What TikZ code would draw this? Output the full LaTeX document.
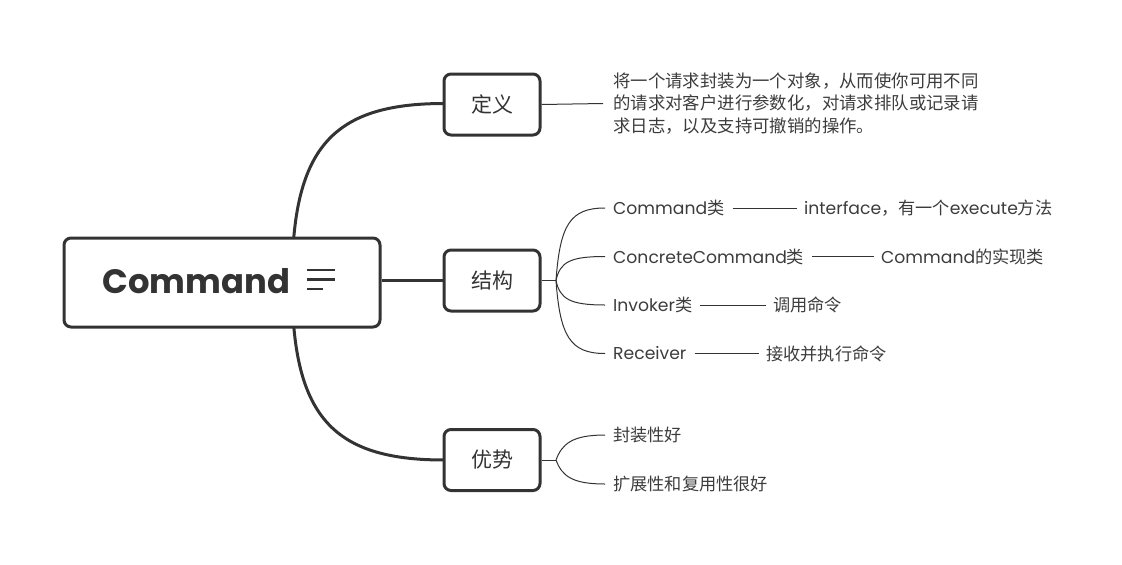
\documentclass[tikz,border=0pt]{standalone}
\usepackage{fontspec}
\setmainfont{Noto Sans CJK SC}
\newfontfamily\lat{Poppins}
\newcommand\lt[1]{{\lat #1}}
\definecolor{ink}{HTML}{333333}
\definecolor{txt}{HTML}{3C3C3C}
\tikzset{
  mainbox/.style={draw=ink, line width=3pt, rounded corners=7pt, fill=white, text=ink, inner sep=0pt},
  subbox/.style={draw=ink, line width=3pt, rounded corners=7pt, fill=white, text=ink, minimum width=96pt, minimum height=61pt, inner sep=0pt, font=\fontsize{21}{24}\selectfont},
  leaf/.style={anchor=west, inner sep=0pt, text=txt, font=\fontsize{17.2}{20}\selectfont},
  thick branch/.style={draw=ink, line width=3pt},
  thin branch/.style={draw=ink, line width=1pt},
}
\begin{document}
\begin{tikzpicture}[x=1pt,y=-1pt]
\useasboundingbox (0,0) rectangle (1122,565);
% main branches (behind root)
\coordinate (rc) at (292,282);
\draw[thick branch] (rc) .. controls (292,150) and (330,103.5) .. (444,103.5);
\draw[thick branch] (rc) .. controls (292,414) and (330,460) .. (444,460);
\node[mainbox, minimum width=316pt, minimum height=89pt] (root) at (222,282.5) {};
\node[anchor=base west, inner sep=0pt, text=ink, font=\fontsize{33.8}{36}\selectfont\lat\bfseries] (roottxt) at (102.5,293) {Command};
\draw[ink, line width=2.2pt] (307,270) -- (335,270) (307,279.5) -- (335,279.5) (307,289) -- (323,289);
\node[subbox] (def) at (492,104.5) {定义};
\node[subbox] (str) at (492,280.5) {结构};
\node[subbox] (adv) at (492,460) {优势};
\draw[thick branch] (root.east |- str.west) -- (str.west);
% definition
\node[leaf, align=left, font=\fontsize{17.4}{22.5}\selectfont] (deftxt) at (613,103.5) {将一个请求封装为一个对象，从而使你可用不同\\的请求对客户进行参数化，对请求排队或记录请\\求日志，以及支持可撤销的操作。};
\draw[thin branch] (def.east) -- ([xshift=-10pt]deftxt.west);
% structure
\node[leaf] (c1) at (613,208) {\lt{Command}类};
\node[leaf] (c2) at (613,256.5) {\lt{ConcreteCommand}类};
\node[leaf] (c3) at (613,305) {\lt{Invoker}类};
\node[leaf] (c4) at (613,353.5) {\lt{Receiver}};
\node[leaf] (d1) at (804,208) {\lt{interface}，有一个\lt{execute}方法};
\node[leaf] (d2) at (881,256.5) {\lt{Command}的实现类};
\node[leaf] (d3) at (773,305) {调用命令};
\node[leaf] (d4) at (766,353.5) {接收并执行命令};
\coordinate (sj) at (556,280.5);
\draw[thin branch] (str.east) -- (sj);
\draw[thin branch] (sj) .. controls (560,225) and (570,208) .. ([xshift=-8pt]c1.west);
\draw[thin branch] (sj) .. controls (560,262) and (570,256.5) .. ([xshift=-8pt]c2.west);
\draw[thin branch] (sj) .. controls (560,299) and (570,305) .. ([xshift=-8pt]c3.west);
\draw[thin branch] (sj) .. controls (560,336) and (570,353.5) .. ([xshift=-8pt]c4.west);
\foreach \a/\b in {c1/d1,c2/d2,c3/d3,c4/d4}
  \draw[thin branch] ([xshift=8pt]\a.east) -- ([xshift=-7pt]\b.west);
% advantages
\node[leaf] (a1) at (613,435) {封装性好};
\node[leaf] (a2) at (613,484) {扩展性和复用性很好};
\coordinate (aj) at (556,460);
\draw[thin branch] (adv.east) -- (aj);
\draw[thin branch] (aj) .. controls (562,444) and (572,435) .. ([xshift=-8pt]a1.west);
\draw[thin branch] (aj) .. controls (562,476) and (572,484) .. ([xshift=-8pt]a2.west);
\end{tikzpicture}
\end{document}
